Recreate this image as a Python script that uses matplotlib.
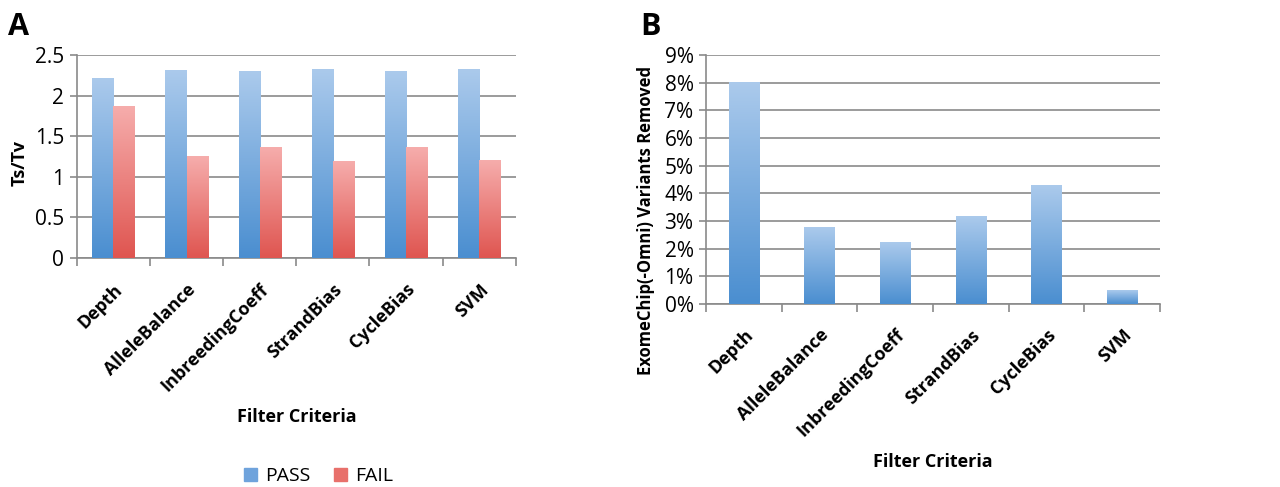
import numpy as np
import matplotlib.pyplot as plt
from matplotlib.colors import LinearSegmentedColormap
from matplotlib.patches import Patch
from matplotlib.ticker import FixedLocator

plt.rcParams['font.family'] = ['Open Sans', 'DejaVu Sans']

# data
criteria = ['Depth', 'AlleleBalance', 'InbreedingCoeff', 'StrandBias', 'CycleBias', 'SVM']
tstv_pass = [2.21, 2.31, 2.29, 2.32, 2.29, 2.32]
tstv_fail = [1.86, 1.25, 1.36, 1.19, 1.36, 1.20]
pct_removed = [8.0, 2.78, 2.24, 3.18, 4.27, 0.49]

blue_cm = LinearSegmentedColormap.from_list('b', ['#4a8ed0', '#abcaec'])
red_cm = LinearSegmentedColormap.from_list('r', ['#df5550', '#f6adac'])
grid_col = '#8a8a8a'


def grad_bar(ax, x, w, h, cmap):
    # vertical gradient, dark at bottom, light at top
    g = np.linspace(0, 1, 256).reshape(-1, 1)
    ax.imshow(g, extent=[x - w / 2, x + w / 2, 0, h], origin='lower',
              aspect='auto', cmap=cmap, zorder=3, interpolation='bicubic')


def style_axes(ax, n, ymax, ystep):
    ax.set_xlim(0, n)
    ax.set_ylim(0, ymax)
    ax.set_yticks(np.arange(0, ymax + ystep / 2, ystep))
    ax.yaxis.grid(True, color=grid_col, linewidth=1.2, zorder=0)
    ax.set_axisbelow(True)
    for s in ['top', 'right']:
        ax.spines[s].set_visible(False)
    for s in ['left', 'bottom']:
        ax.spines[s].set_color(grid_col)
        ax.spines[s].set_linewidth(1.2)
    # category boundary ticks
    ax.xaxis.set_major_locator(FixedLocator(np.arange(0, n + 1)))
    ax.xaxis.set_minor_locator(FixedLocator(np.arange(n) + 0.5))
    ax.set_xticklabels([''] * (n + 1))
    ax.set_xticklabels(criteria, minor=True, rotation=45, ha='right',
                       rotation_mode='anchor', fontsize=13, fontweight='bold')
    ax.tick_params(axis='x', which='major', length=6, color=grid_col, width=1.2)
    ax.tick_params(axis='x', which='minor', length=0, pad=16)
    ax.tick_params(axis='y', length=5, color=grid_col, width=1.2, labelsize=15, pad=4)


fig = plt.figure(figsize=(12.8, 4.87), dpi=100)

# panel A
axA = fig.add_axes([0.060, 0.470, 0.343, 0.417])
n = len(criteria)
x = np.arange(n) + 0.5
bw = 0.29
for i in range(n):
    grad_bar(axA, x[i] - bw / 2, bw, tstv_pass[i], blue_cm)
    grad_bar(axA, x[i] + bw / 2, bw, tstv_fail[i], red_cm)
style_axes(axA, n, 2.5, 0.5)
axA.set_yticklabels(['0', '0.5', '1', '1.5', '2', '2.5'])
axA.set_ylabel('Ts/Tv', fontsize=13, fontweight='bold')
axA.yaxis.set_label_coords(-0.109, 0.47)
axA.set_xlabel('Filter Criteria', fontsize=13, fontweight='bold')
axA.xaxis.set_label_coords(0.5, -0.74)
axA.legend(handles=[Patch(color='#6fa3dc', label='PASS'),
                    Patch(color='#e8706b', label='FAIL')],
           loc='center', bbox_to_anchor=(0.55, -1.075), ncol=2, frameon=False,
           fontsize=14, handlelength=0.7, handleheight=0.7, handletextpad=0.4,
           columnspacing=1.2)

# panel B
axB = fig.add_axes([0.5516, 0.376, 0.3547, 0.511])
bw = 0.40
for i in range(n):
    grad_bar(axB, x[i], bw, pct_removed[i], blue_cm)
style_axes(axB, n, 9, 1)
axB.set_yticklabels([f'{v}%' for v in range(10)])
axB.set_ylabel('ExomeChip(-Omni) Variants Removed', fontsize=12,
               fontweight='bold')
axB.yaxis.set_label_coords(-0.112, 0.337)
axB.set_xlabel('Filter Criteria', fontsize=13, fontweight='bold')
axB.xaxis.set_label_coords(0.5, -0.60)

fig.text(0.006, 0.975, 'A', fontsize=22, fontweight='bold', va='top')
fig.text(0.500, 0.975, 'B', fontsize=22, fontweight='bold', va='top')

fig.savefig('out.png', dpi=100)
